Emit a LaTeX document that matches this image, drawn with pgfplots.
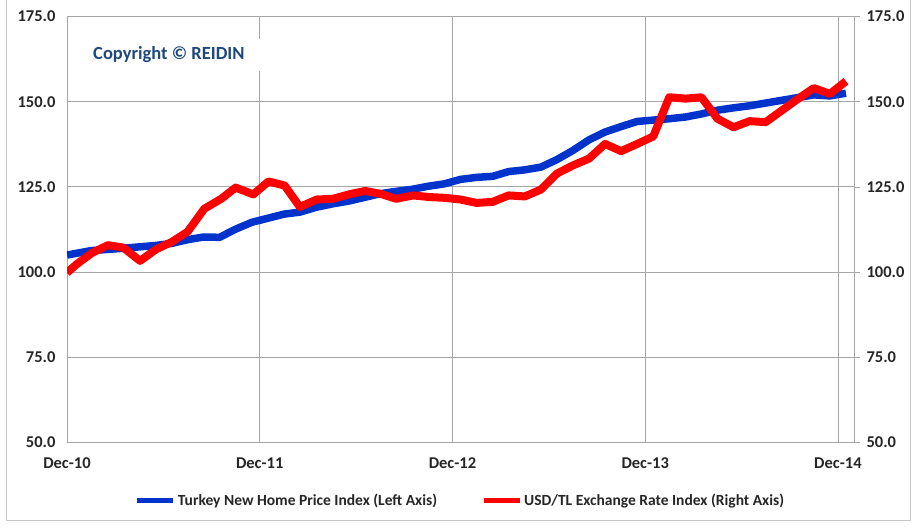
\documentclass[border=0pt]{standalone}
\usepackage{fontspec}
\setmainfont{Carlito}
\usepackage{pgfplots}
\pgfplotsset{compat=1.18}

\definecolor{homeblue}{RGB}{0,51,204}
\definecolor{fxred}{RGB}{255,0,0}
\definecolor{gridgray}{RGB}{166,166,166}
\definecolor{copyblue}{RGB}{31,73,125}

\newcommand{\lbl}{\fontsize{16.5bp}{18bp}\selectfont\bfseries}
\newcommand{\leglbl}{\fontsize{15.5bp}{18bp}\selectfont\bfseries}

\pgfplotsset{
  common/.style={
    scale only axis,
    width=787bp, height=426bp,
    xmin=0, xmax=49,
    ymin=50, ymax=175,
    ytick={50,75,100,125,150,175},
    yticklabels={50.0,75.0,100.0,125.0,150.0,175.0},
    tick label style={font=\lbl, text=black!85},
    axis line style={gridgray},
    every tick/.style={gridgray},
  }
}

\begin{document}
\begin{tikzpicture}
% left axis: home price index
\begin{axis}[
    common,
    xtick={0,12,24,36,48},
    xticklabels={Dec-10,Dec-11,Dec-12,Dec-13,Dec-14},
    xtick pos=bottom, ytick pos=left,
    major tick length=0pt,
    xticklabel style={yshift=-12bp},
    yticklabel style={xshift=-8bp},
    grid=major,
    grid style={gridgray, line width=0.8bp},
  ]
\addplot[homeblue, line width=7.5bp, line join=round] coordinates {
(0,105.0) (1.5,106.3) (3.5,107.0) (5.5,107.8) (6.5,108.4) (7.5,109.5)
(8.5,110.3) (9.5,110.2) (10.5,112.6) (11.5,114.6) (12.5,115.8) (13.5,117.0)
(14.5,117.6) (15.5,119.0) (16.5,120.0) (17.5,120.8) (18.5,121.9) (19.5,123.0)
(20.5,123.7) (21.5,124.3) (22.5,125.2) (23.5,125.9) (24.5,127.2) (25.5,127.8)
(26.5,128.1) (27.5,129.5) (28.5,130.0) (29.5,130.8) (30.5,133.0) (31.5,135.7)
(32.5,138.8) (33.5,141.1) (34.5,142.7) (35.5,144.2) (36.5,144.6) (37.5,145.0)
(38.5,145.5) (39.5,146.4) (40.5,147.5) (41.5,148.2) (42.5,148.8) (43.5,149.6)
(44.5,150.4) (45.5,151.2) (46.5,152.0) (47.5,151.7) (48.5,152.5)
};
\node[anchor=west, fill=white, inner xsep=18bp, minimum height=32bp,
      text=copyblue, font=\fontsize{18.5bp}{20bp}\selectfont\bfseries]
  at (axis cs:0.5,163.8) {Copyright © REIDIN};
\end{axis}
% right axis: exchange rate index
\begin{axis}[
    common,
    axis x line=none,
    axis y line*=right,
    tick align=outside,
    major tick length=6bp,
    yticklabel style={xshift=3bp},
    legend columns=2,
    legend style={at={(0.5,-0.136)}, anchor=center, draw=none, fill=none,
      font=\leglbl, text=black!85,
      /tikz/every even column/.append style={column sep=42bp}},
    legend image code/.code={\draw[#1, line width=5bp] (0bp,0bp) -- (36bp,0bp);},
  ]
\addlegendimage{homeblue}
\addlegendentry{Turkey New Home Price Index (Left Axis)}
\addplot[fxred, line width=8bp, line join=round] coordinates {
(0,99.8) (0.6,102.3) (1.55,105.6) (2.55,107.9) (3.5,107.2) (4.55,103.3)
(5.55,106.7) (6.5,108.8) (7.5,111.8) (8.55,118.6) (9.6,121.5) (10.5,124.8)
(11.6,122.8) (12.55,126.6) (13.55,125.4) (14.5,119.1) (15.55,121.3) (16.55,121.5)
(17.55,122.8) (18.55,123.8) (19.5,123.0) (20.5,121.5) (21.55,122.5) (22.6,122.0)
(23.5,121.8) (24.5,121.3) (25.5,120.3) (26.5,120.6) (27.5,122.5) (28.5,122.2)
(29.5,124.2) (30.5,128.9) (31.5,131.3) (32.5,133.3) (33.5,137.6) (34.5,135.5)
(35.5,137.6) (36.5,139.8) (37.5,151.3) (38.5,150.9) (39.5,151.3) (40.5,145.0)
(41.5,142.5) (42.5,144.3) (43.5,144.0) (44.5,147.4) (45.5,150.8) (46.5,154.0)
(47.5,152.3) (48.5,156.0)
};
\addlegendentry{USD/TL Exchange Rate Index (Right Axis)}
\end{axis}
\draw[gray!45, line width=1bp] (-60bp,442bp) -- (-60bp,-78bp) -- (843bp,-78bp) -- (843bp,442bp);
\path[use as bounding box] (-67bp,-85bp) rectangle (847bp,442bp);
\end{tikzpicture}
\end{document}
